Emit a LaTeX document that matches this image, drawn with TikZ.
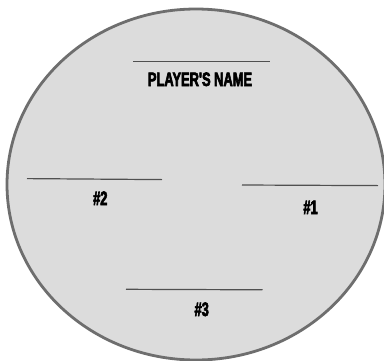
\documentclass[tikz,border=0pt]{standalone}
\usepackage{fontspec}
\usepackage{xcolor}
\newfontfamily\badgefont[FakeStretch=0.66,FakeBold=3]{Liberation Sans Bold}
\definecolor{discfill}{HTML}{DCDCDC}
\definecolor{discrim}{HTML}{6E6E6E}
\definecolor{rulegray}{HTML}{505050}

\begin{document}
\begin{tikzpicture}[x=1pt,y=-1pt,font=\badgefont\fontsize{19.5}{19.5}\selectfont,
 disc/.style={draw=discrim,fill=discfill,line width=2.8pt},
 blank/.style={draw=rulegray,line width=1.2pt},
 caption/.style={anchor=base,inner sep=0pt,text=black}]
\useasboundingbox (0,0) rectangle (384,360);
\fill[white] (0,0) rectangle (384,360);
\draw[disc] (196,184.5) ellipse [x radius=189,y radius=175.5];
% name line and label
\coordinate (nameL) at (133,61.7);
\coordinate (nameR) at (270,61.7);
\draw[blank] (nameL)--(nameR);
\node[caption] (name) at (200,86) {PLAYER'S NAME};
% second place
\coordinate (twoL) at (27,178.6);
\coordinate (twoR) at (162,179.6);
\draw[blank] (twoL)--(twoR);
\node[caption] (two) at (100.3,205) {\#2};
% first place
\coordinate (oneL) at (242,185);
\coordinate (oneR) at (378,185.6);
\draw[blank] (oneL)--(oneR);
\node[caption] (one) at (310.5,214) {\#1};
% third place
\coordinate (threeL) at (126,289.3);
\coordinate (threeR) at (262.5,289.8);
\draw[blank] (threeL)--(threeR);
\node[caption] (three) at (201.7,316) {\#3};
\end{tikzpicture}
\end{document}
